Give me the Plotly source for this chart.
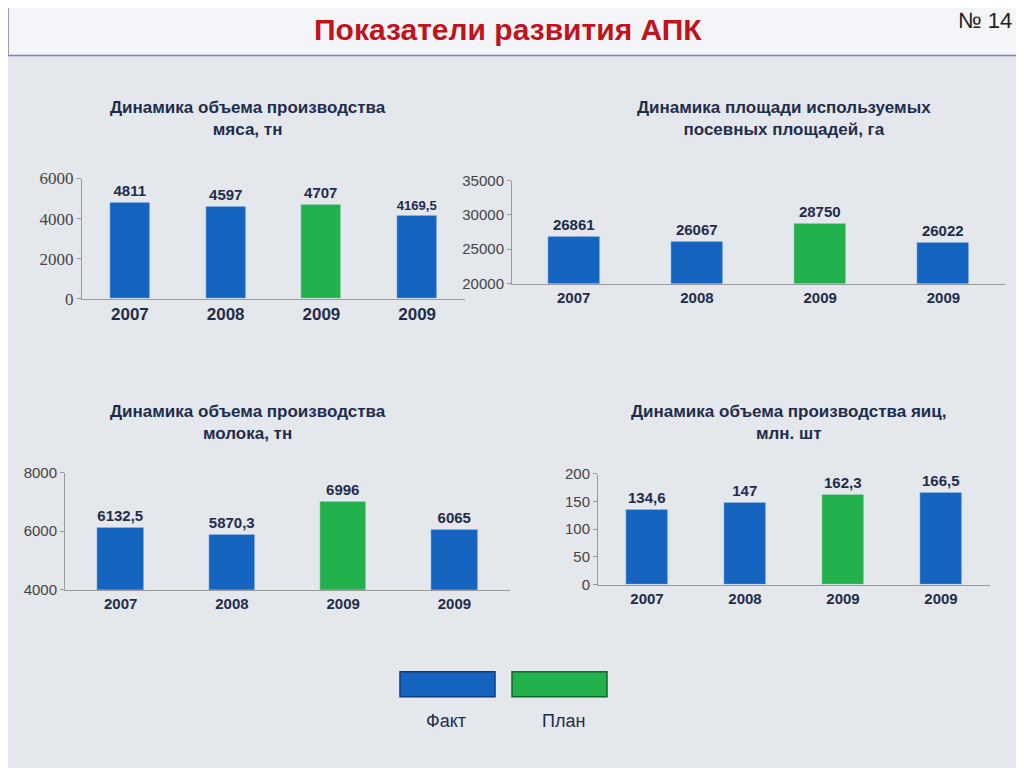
import plotly.graph_objects as go

years = ["2007", "2008", "2009", "2009"]
meat = [4811, 4597, 4707, 4169.5]
meat_lbl = ["4811", "4597", "4707", "4169,5"]
area = [26861, 26067, 28750, 26022]
area_lbl = ["26861", "26067", "28750", "26022"]
milk = [6132.5, 5870.3, 6996, 6065]
milk_lbl = ["6132,5", "5870,3", "6996", "6065"]
eggs = [134.6, 147, 162.3, 166.5]
eggs_lbl = ["134,6", "147", "162,3", "166,5"]
kinds = ["Факт", "Факт", "План", "Факт"]

BLUE, GREEN, NAVY = "#1565c0", "#22b14c", "#1f2d4d"
cols = [GREEN if k == "План" else BLUE for k in kinds]
W, H = 1010, 768


def px(d):
    return (d - 8) / W


def py(d):
    return 1 - ((d - 16.5) / 0.975) / H


charts = [
    (meat, meat_lbl, (82, 465), (298, 178), [0, 6000], 2000,
     "Динамика объема производства<br>мяса, тн", 248, 118, "Liberation Serif", 17),
    (area, area_lbl, (512, 1005), (283, 180), [20000, 35000], 5000,
     "Динамика площади используемых<br>посевных площадей, га", 784, 118, "Arial", 15),
    (milk, milk_lbl, (65, 510), (589, 472), [4000, 8000], 2000,
     "Динамика объема производства<br>молока, тн", 248, 422, "Arial", 15),
    (eggs, eggs_lbl, (598, 990), (584, 473), [0, 200], 50,
     "Динамика объема производства яиц,<br>млн. шт", 788, 422, "Arial", 15),
]

fig = go.Figure()
anns = []
for i, (vals, lbls, xd, yd, yr, dt, title, tx, ty, tf, ts) in enumerate(charts):
    n = "" if i == 0 else str(i + 1)
    fig.add_trace(go.Bar(x=list(range(4)), y=vals, text=lbls, textposition="outside",
                         textfont=dict(family="Arial", size=15, color=NAVY),
                         texttemplate="<b>%{text}</b>", cliponaxis=False,
                         marker_color=cols, width=0.42, showlegend=False,
                         xaxis="x" + n, yaxis="y" + n))
    fig.layout["xaxis" + n] = dict(domain=[px(xd[0]), px(xd[1])], anchor="y" + n, range=[-0.5, 3.5],
                                  tickvals=list(range(4)), ticktext=["<b>%s</b>" % y for y in years],
                                  tickfont=dict(family="Arial", size=17 if i == 0 else 15, color=NAVY),
                                  showline=True, linecolor="#999", ticks="", showgrid=False)
    fig.layout["yaxis" + n] = dict(domain=[py(yd[0]), py(yd[1])], anchor="x" + n, range=yr, dtick=dt,
                                  tickformat="d",
                                  tickfont=dict(family=tf, size=ts, color="#444"),
                                  showline=True, linecolor="#999", ticks="outside",
                                  ticklen=4, tickcolor="#999", showgrid=False, zeroline=False)
    anns.append(dict(text="<b>" + title + "</b>", x=px(tx), y=py(ty), xref="paper", yref="paper",
                     xanchor="center", yanchor="middle",
                     showarrow=False, font=dict(family="Arial", size=17, color=NAVY), align="center"))

anns += [
    dict(text="<b>Показатели развития АПК</b>", x=px(508), y=py(29), xref="paper", yref="paper",
         xanchor="center", yanchor="middle",
         showarrow=False, font=dict(family="Arial", size=30, color="#c0131b")),
    dict(text="№ 14", x=px(985), y=py(20), xref="paper", yref="paper", showarrow=False,
         xanchor="center", yanchor="middle",
         font=dict(family="Arial", size=22, color="#222")),
    dict(text="Факт", x=px(446), y=py(720), xref="paper", yref="paper", showarrow=False,
         xanchor="center", yanchor="middle",
         font=dict(family="Arial", size=18, color=NAVY)),
    dict(text="План", x=px(563), y=py(720), xref="paper", yref="paper", showarrow=False,
         xanchor="center", yanchor="middle",
         font=dict(family="Arial", size=18, color=NAVY)),
]
shapes = [
    dict(type="rect", xref="paper", yref="paper", x0=0.0, x1=1.0, y0=py(55), y1=py(1.5),
         line=dict(color="#7a86b8", width=1.5), fillcolor="#f4f5f8", layer="below"),
    dict(type="rect", xref="paper", yref="paper", x0=px(400), x1=px(495), y0=py(696), y1=py(671),
         line=dict(color="#0d3d7a", width=1.5), fillcolor=BLUE),
    dict(type="rect", xref="paper", yref="paper", x0=px(512), x1=px(607), y0=py(696), y1=py(671),
         line=dict(color="#0d6b2a", width=1.5), fillcolor=GREEN),
]
fig.update_layout(width=W, height=H, margin=dict(l=0, r=0, t=0, b=0),
                  paper_bgcolor="#e4e7ec", plot_bgcolor="rgba(0,0,0,0)",
                  annotations=anns, shapes=shapes, bargap=0)
fig.write_html("out.html")
